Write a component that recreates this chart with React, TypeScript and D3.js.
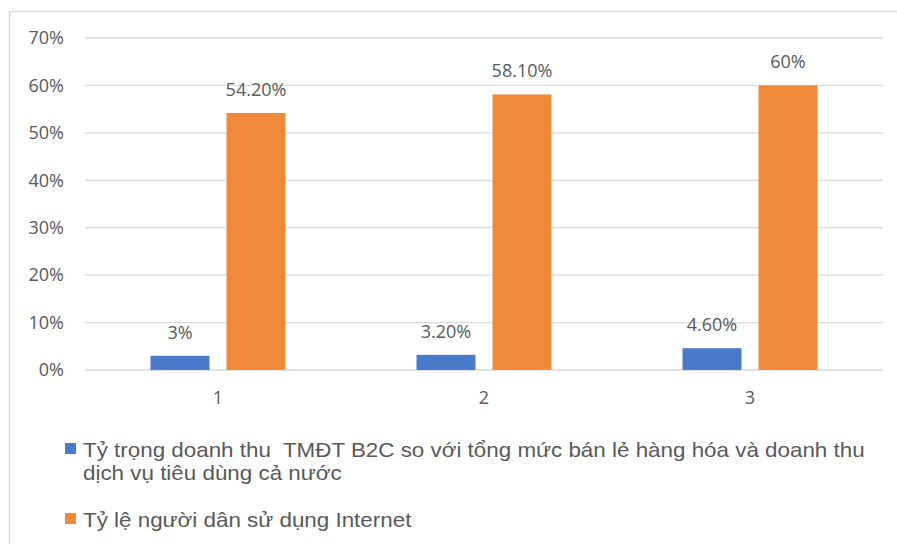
import React from "react";
import * as d3 from "d3";

const categories = ["1", "2", "3"];
const series1 = [3, 3.2, 4.6];
const series2 = [54.2, 58.1, 60];
const labels1 = ["3%", "3.20%", "4.60%"];
const labels2 = ["54.20%", "58.10%", "60%"];
const yTicks = [0, 10, 20, 30, 40, 50, 60, 70];
const legendNames = [
  ["Tỷ trọng doanh thu  TMĐT B2C so với tổng mức bán lẻ hàng hóa và doanh thu", "dịch vụ tiêu dùng cả nước"],
  ["Tỷ lệ người dân sử dụng Internet"],
];
const colors = ["#4a7bcb", "#ef8a3b"];

export default function App() {
  const W = 897, H = 544;
  const left = 85, right = 883, top = 38, bottom = 370;
  const x = d3.scaleBand<string>().domain(categories).range([left, right]).paddingInner(0).paddingOuter(0);
  const y = d3.scaleLinear().domain([0, 70]).range([bottom, top]);
  const barW = 59, gap = 17;
  const axisFont = "'Open Sans', sans-serif";
  const series = [series1, series2];
  const labs = [labels1, labels2];
  return (
    <div style={{ position: "absolute", left: 0, top: 0 }}>
      <svg width={W} height={H} style={{ display: "block" }}>
        <rect x={0} y={0} width={W} height={H} fill="#fff" />
        <line x1={9.5} y1={11} x2={9.5} y2={H} stroke="#d9d9d9" strokeWidth={1.5} />
        <line x1={9} y1={11.5} x2={W} y2={11.5} stroke="#d9d9d9" strokeWidth={1.5} />
        {yTicks.map((t) => (
          <g key={t}>
            <line x1={left} x2={right} y1={y(t)} y2={y(t)} stroke="#d9d9d9" strokeWidth={1.3} />
            <text x={64} y={y(t)} dy="0.35em" textAnchor="end" fontFamily={axisFont} fontSize={18} fill="#595959">
              {t}%
            </text>
          </g>
        ))}
        {categories.map((c, i) => {
          const cx = x(c)! + x.bandwidth() / 2;
          return (
            <g key={c}>
              {series.map((s, k) => {
                const bx = k === 0 ? cx - gap / 2 - barW : cx + gap / 2;
                return (
                  <g key={k}>
                    <rect x={bx} y={y(s[i])} width={barW} height={y(0) - y(s[i])} fill={colors[k]} />
                    <text x={bx + barW / 2} y={y(s[i]) - 17} textAnchor="middle" fontFamily={axisFont} fontSize={18} fill="#595959">
                      {labs[k][i]}
                    </text>
                  </g>
                );
              })}
              <text x={cx} y={398} dy="0.35em" textAnchor="middle" fontFamily={axisFont} fontSize={18} fill="#595959">
                {c}
              </text>
            </g>
          );
        })}
        {legendNames.map((lines, k) => {
          const ly = k === 0 ? 457 : 527;
          return (
            <g key={k}>
              <rect x={65} y={ly - 14} width={11} height={11} fill={colors[k]} />
              {lines.map((ln, j) => (
                <text
                  key={j}
                  transform={`translate(83,${ly + j * 23}) scale(1.12,1)`}
                  fontFamily="'Liberation Sans', Arial, sans-serif"
                  fontSize={20}
                  fill="#595959"
                  style={{ whiteSpace: "pre" }}
                >
                  {ln}
                </text>
              ))}
            </g>
          );
        })}
      </svg>
    </div>
  );
}
